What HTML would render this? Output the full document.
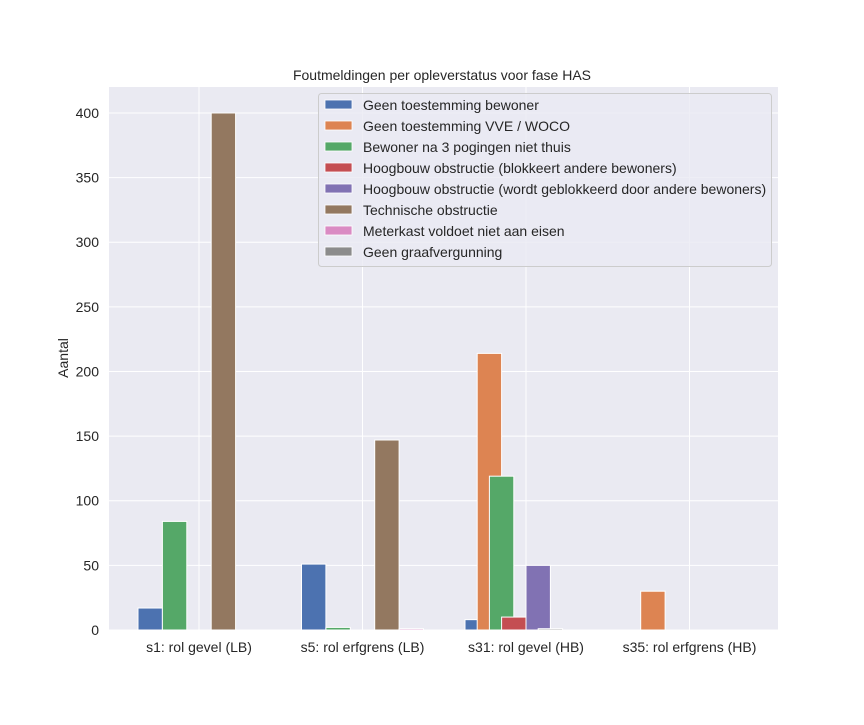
<!DOCTYPE html>
<html><head><meta charset="utf-8"><style>
body{margin:0;background:#fff;}
svg text{font-family:"Liberation Sans",Arial,sans-serif;fill:#262626;}
</style></head><body>
<svg id="chart" width="864" height="720" xmlns="http://www.w3.org/2000/svg">
<rect x="109" y="87" width="669" height="543" fill="#eaeaf2"/>
<g id="grid"></g>
<g id="bars"></g>
<g id="ticks"></g>
<text x="442" y="80" font-size="14" text-anchor="middle">Foutmeldingen per opleverstatus voor fase HAS</text>
<text x="0" y="0" font-size="14" text-anchor="middle" transform="translate(68,358) rotate(-90)">Aantal</text>
<g id="legend"></g>
</svg>
<script>
const categories = ["s1: rol gevel (LB)", "s5: rol erfgrens (LB)", "s31: rol gevel (HB)", "s35: rol erfgrens (HB)"];
const seriesNames = ["Geen toestemming bewoner","Geen toestemming VVE / WOCO","Bewoner na 3 pogingen niet thuis","Hoogbouw obstructie (blokkeert andere bewoners)","Hoogbouw obstructie (wordt geblokkeerd door andere bewoners)","Technische obstructie","Meterkast voldoet niet aan eisen","Geen graafvergunning"];
const colors = ["#4c72b0","#dd8452","#55a868","#c44e52","#8172b3","#937860","#da8bc3","#8c8c8c"];
// bars: [category index, series index, value, slot offset]
const barCat = [0,0,0, 1,1,1,1, 2,2,2,2,2,2, 3];
const barSeries = [0,2,5, 0,2,5,6, 0,1,2,3,4,7, 1];
const barValues = [17,84,400, 51,2,147,1, 8,214,119,10,50,1, 30];
const barSlots = [-2,-1,1, -2,-1,1,2, -2,-1.5,-1,-0.5,0.5,1, -1.5];
const yTicks = [0,50,100,150,200,250,300,350,400];

const NS="http://www.w3.org/2000/svg";
const X0=109,X1=778,Y0=630,Y1=87,YMAX=420.1;
const y = v => Y0 - v/YMAX*(Y0-Y1);
const xCat = i => 199 + i*163.5;
const BW=24.4;
function mk(tag,attrs,parent){const e=document.createElementNS(NS,tag);for(const k in attrs)e.setAttribute(k,attrs[k]);parent.appendChild(e);return e;}
const grid=document.getElementById('grid'),bars=document.getElementById('bars'),ticks=document.getElementById('ticks'),legend=document.getElementById('legend');
yTicks.forEach(t=>{
  const l=mk('line',{x1:X0,x2:X1,y1:y(t),y2:y(t),stroke:'#fff','stroke-width':1},grid);
  
  
  const tx=mk('text',{x:99,y:y(t)+5,'font-size':14,'text-anchor':'end'},ticks);
  tx.textContent=t;
  
  
});
categories.forEach((c,i)=>{
  const l=mk('line',{x1:xCat(i),x2:xCat(i),y1:Y1,y2:Y0,stroke:'#fff','stroke-width':1},grid);
  
  
  const tx=mk('text',{x:xCat(i),y:652,'font-size':14,'text-anchor':'middle'},ticks);
  tx.textContent=c;
  
  
});
barValues.forEach((v,k)=>{
  const cx=xCat(barCat[k])+barSlots[k]*BW;
  const r=mk('rect',{x:cx-BW/2,y:y(v),width:BW,height:Y0-y(v),fill:colors[barSeries[k]],stroke:'#fff','stroke-width':1},bars);
  
  
});
const lg=mk('rect',{x:318.5,y:93.5,width:453,height:173,rx:3,fill:'#eaeaf2','fill-opacity':0.8,stroke:'#cccccc'},legend);


seriesNames.forEach((n,i)=>{
  const yy=105+i*21;
  const sw=mk('rect',{x:325,y:yy-5,width:27,height:9,fill:colors[i],stroke:'#fff','stroke-width':0.8},legend);
  
  
  const t=mk('text',{x:363,y:yy+5,'font-size':14},legend);
  t.textContent=n;
  
  
});
</script>
</body></html>
